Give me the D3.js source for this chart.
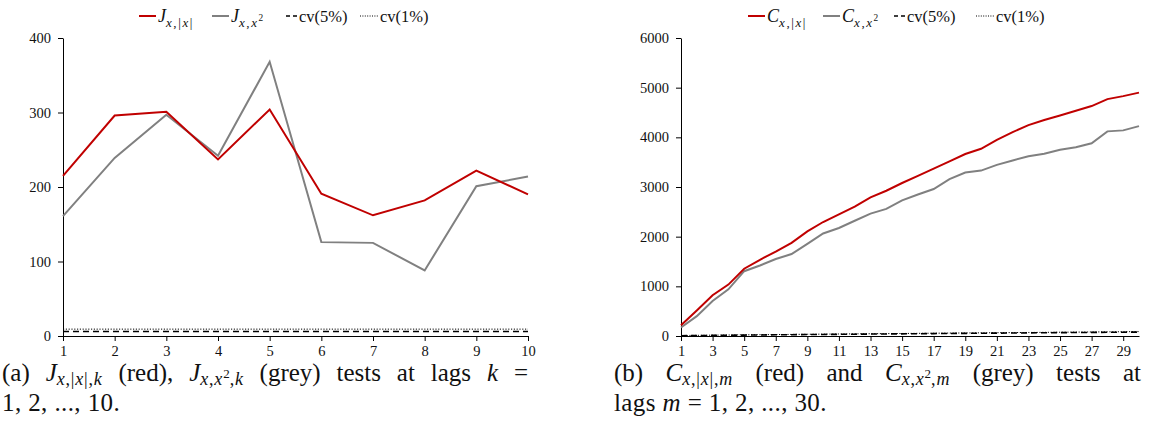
<!DOCTYPE html>
<html>
<head>
<meta charset="utf-8">
<script src="https://cdn.jsdelivr.net/npm/d3@7/dist/d3.min.js"></script>
<style>
  body { margin: 0; background: #fff; }
  text { font-family: "Liberation Serif", "Times New Roman", Tinos, "DejaVu Serif", serif; fill: #111; }
</style>
</head>
<body>
<div id="chart"></div>
<script>
// panel (a): J tests at lags 1..10
let lagsA = [1, 2, 3, 4, 5, 6, 7, 8, 9, 10];
let jAbs = [215, 296, 301, 237, 304, 191, 162, 182, 222, 190];
let jSq = [161, 239, 297, 242, 368, 126, 125, 88, 201, 214];
let cv5A = [5.99, 5.99, 5.99, 5.99, 5.99, 5.99, 5.99, 5.99, 5.99, 5.99];
let cv1A = [9.21, 9.21, 9.21, 9.21, 9.21, 9.21, 9.21, 9.21, 9.21, 9.21];
let yTicksA = [0, 100, 200, 300, 400];
let xTicksA = [1, 2, 3, 4, 5, 6, 7, 8, 9, 10];

// panel (b): C tests at lags 1..30
let lagsB = [1, 2, 3, 4, 5, 6, 7, 8, 9, 10, 11, 12, 13, 14, 15, 16, 17, 18, 19, 20, 21, 22, 23, 24, 25, 26, 27, 28, 29, 30];
let cAbs = [215, 515, 820, 1035, 1355, 1535, 1700, 1875, 2105, 2295, 2450, 2605, 2790, 2925, 3080, 3225, 3370, 3515, 3665, 3770, 3950, 4105, 4245, 4350, 4440, 4535, 4630, 4770, 4830, 4900];
let cSq = [170, 400, 705, 940, 1305, 1420, 1550, 1650, 1855, 2065, 2175, 2320, 2465, 2560, 2730, 2850, 2960, 3160, 3290, 3330, 3445, 3535, 3620, 3670, 3750, 3800, 3880, 4120, 4140, 4225];
let cv5B = [5.99, 9.49, 12.59, 15.51, 18.31, 21.03, 23.68, 26.30, 28.87, 31.41, 33.92, 36.42, 38.89, 41.34, 43.77, 46.19, 48.60, 51.00, 53.38, 55.76, 58.12, 60.48, 62.83, 65.17, 67.50, 69.83, 72.15, 74.47, 76.78, 79.08];
let cv1B = [9.21, 13.28, 16.81, 20.09, 23.21, 26.22, 29.14, 32.00, 34.81, 37.57, 40.29, 42.98, 45.64, 48.28, 50.89, 53.49, 56.06, 58.62, 61.16, 63.69, 66.21, 68.71, 71.20, 73.68, 76.15, 78.62, 81.07, 83.51, 85.95, 88.38];
let yTicksB = [0, 1000, 2000, 3000, 4000, 5000, 6000];
let xTicksB = [1, 3, 5, 7, 9, 11, 13, 15, 17, 19, 21, 23, 25, 27, 29];

let w = 1173;
let h = 430;
let red = "#c00000";
let grey = "#808080";

const svg = d3.select("#chart").
append("svg").
attr("width", w).
attr("height", h);

// text with italic letters and sub/superscripts, parts = [string, kind]
// kind: "" roman, "i" italic, "s" italic subscript, "sr" roman subscript, "ss" superscript inside subscript
function mathText(parent, x, y, parts, size, subSpacing, subDrop) {
  let t = parent.append("text").
  attr("x", x).
  attr("y", y).
  style("font-size", size + "px");
  let shift = 0;
  let drop = subDrop || 0.28;
  parts.forEach(([str, kind]) => {
    let off = 0;
    let fs = size;
    let ls = null;
    if (kind == "s" || kind == "sr") {off = drop * size;fs = 0.72 * size;ls = (subSpacing || 0) + "px";}
    if (kind == "ss") {off = drop * size - 0.3 * size;fs = 0.52 * size;}
    t.append("tspan").
    attr("dy", off - shift).
    style("font-size", fs + "px").
    style("letter-spacing", ls).
    style("font-style", kind == "i" || kind == "s" ? "italic" : "normal").
    text(str);
    shift = off;
  });
  return t;
}

function drawPanel(p) {
  const xScale = d3.scaleLinear().domain([p.lags[0], p.lags[p.lags.length - 1]]).range([p.left, p.right]);
  const yScale = d3.scaleLinear().domain([0, p.yTicks[p.yTicks.length - 1]]).range([p.bottom, p.top]);

  let line = d3.line().
  x((d, i) => xScale(p.lags[i])).
  y(d => yScale(d));

  // critical values first, they sit right on the axis
  svg.append("path").
  attr("d", line(p.cv1)).
  attr("fill", "none").
  attr("stroke", "#000").
  attr("stroke-width", 1).
  attr("stroke-dasharray", "1.2,1.6");

  svg.append("path").
  attr("d", line(p.cv5)).
  attr("fill", "none").
  attr("stroke", "#000").
  attr("stroke-width", 1.6).
  attr("stroke-dasharray", "6,4");

  let xAxis = d3.axisBottom(xScale).tickValues(p.xTicks).tickSize(5).tickSizeOuter(0).tickPadding(5).tickFormat(d3.format("d"));
  let yAxis = d3.axisLeft(yScale).tickValues(p.yTicks).tickSize(5).tickSizeOuter(0).tickPadding(7).tickFormat(d3.format("d"));

  svg.append("g").
  attr("transform", "translate(0," + p.bottom + ")").
  call(xAxis);

  svg.append("g").
  attr("transform", "translate(" + p.left + ",0)").
  call(yAxis);

  svg.selectAll(".tick text").
  style("font-size", "14.5px").
  attr("fill", "#111");
  svg.selectAll(".domain, .tick line").attr("stroke", "#000");

  svg.append("path").
  attr("d", line(p.sq)).
  attr("fill", "none").
  attr("stroke", grey).
  attr("stroke-width", 2);

  svg.append("path").
  attr("d", line(p.abs)).
  attr("fill", "none").
  attr("stroke", red).
  attr("stroke-width", 2);
}

// legend entries sit at fixed x positions (sample line then label)
function drawLegend(xs, y0, letter) {
  let items = [
  { len: 17, color: red, sw: 2, dash: null, label: [[letter, "i"], ["x", "s"], [",|", "sr"], ["x", "s"], ["|", "sr"]] },
  { len: 17, color: grey, sw: 2, dash: null, label: [[letter, "i"], ["x", "s"], [",", "sr"], ["x", "s"], ["2", "ss"]] },
  { len: 11, color: "#000", sw: 1.6, dash: "4,3", label: [["cv(5%)", ""]] },
  { len: 18, color: "#000", sw: 1, dash: "1,1.4", label: [["cv(1%)", ""]] }];

  let g = svg.append("g");
  items.forEach((it, i) => {
    let x = xs[i];
    g.append("line").
    attr("x1", x).attr("x2", x + it.len).
    attr("y1", y0).attr("y2", y0).
    attr("stroke", it.color).
    attr("stroke-width", it.sw).
    attr("stroke-dasharray", it.dash);
    mathText(g, x + it.len + 2, y0 + 5.5, it.label, i < 2 ? 18 : 16.5, 1.6);
  });
}

// stretch the spaces so the first caption line is justified like in latex
function justify(t, width) {
  let natural = t.node().getComputedTextLength();
  let spaces = (t.text().match(/ /g) || []).length;
  t.style("word-spacing", (width - natural) / spaces + "px");
}

drawPanel({ lags: lagsA, abs: jAbs, sq: jSq, cv5: cv5A, cv1: cv1A, xTicks: xTicksA, yTicks: yTicksA, left: 63, right: 528, top: 38, bottom: 336 });
drawPanel({ lags: lagsB, abs: cAbs, sq: cSq, cv5: cv5B, cv1: cv1B, xTicks: xTicksB, yTicks: yTicksB, left: 681, right: 1139, top: 38, bottom: 336 });

drawLegend([139, 212, 286, 360], 16, "J");
drawLegend([748, 823, 894, 976], 16, "C");

// captions
let capSize = 25;
let capA = mathText(svg, 2, 381, [
["(a) ", ""], ["J", "i"], ["x", "s"], [",|", "sr"], ["x", "s"], ["|,", "sr"], ["k", "s"],
[" (red), ", ""], ["J", "i"], ["x", "s"], [",", "sr"], ["x", "s"], ["2", "ss"], [",", "sr"], ["k", "s"],
[" (grey) tests at lags ", ""], ["k", "i"], [" =", ""]],
capSize, 0.8, 0.17);
justify(capA, 526);
mathText(svg, 2, 411, [["1, 2, ..., 10.", ""]], capSize).style("letter-spacing", "0.4px");

let capB = mathText(svg, 614, 381, [
["(b) ", ""], ["C", "i"], ["x", "s"], [",|", "sr"], ["x", "s"], ["|,", "sr"], ["m", "s"],
[" (red) and ", ""], ["C", "i"], ["x", "s"], [",", "sr"], ["x", "s"], ["2", "ss"], [",", "sr"], ["m", "s"],
[" (grey) tests at", ""]],
capSize, 0.8, 0.17);
justify(capB, 527);
mathText(svg, 614, 411, [["lags ", ""], ["m", "i"], [" = 1, 2, ..., 30.", ""]], capSize).style("letter-spacing", "0.4px");
</script>
</body>
</html>
